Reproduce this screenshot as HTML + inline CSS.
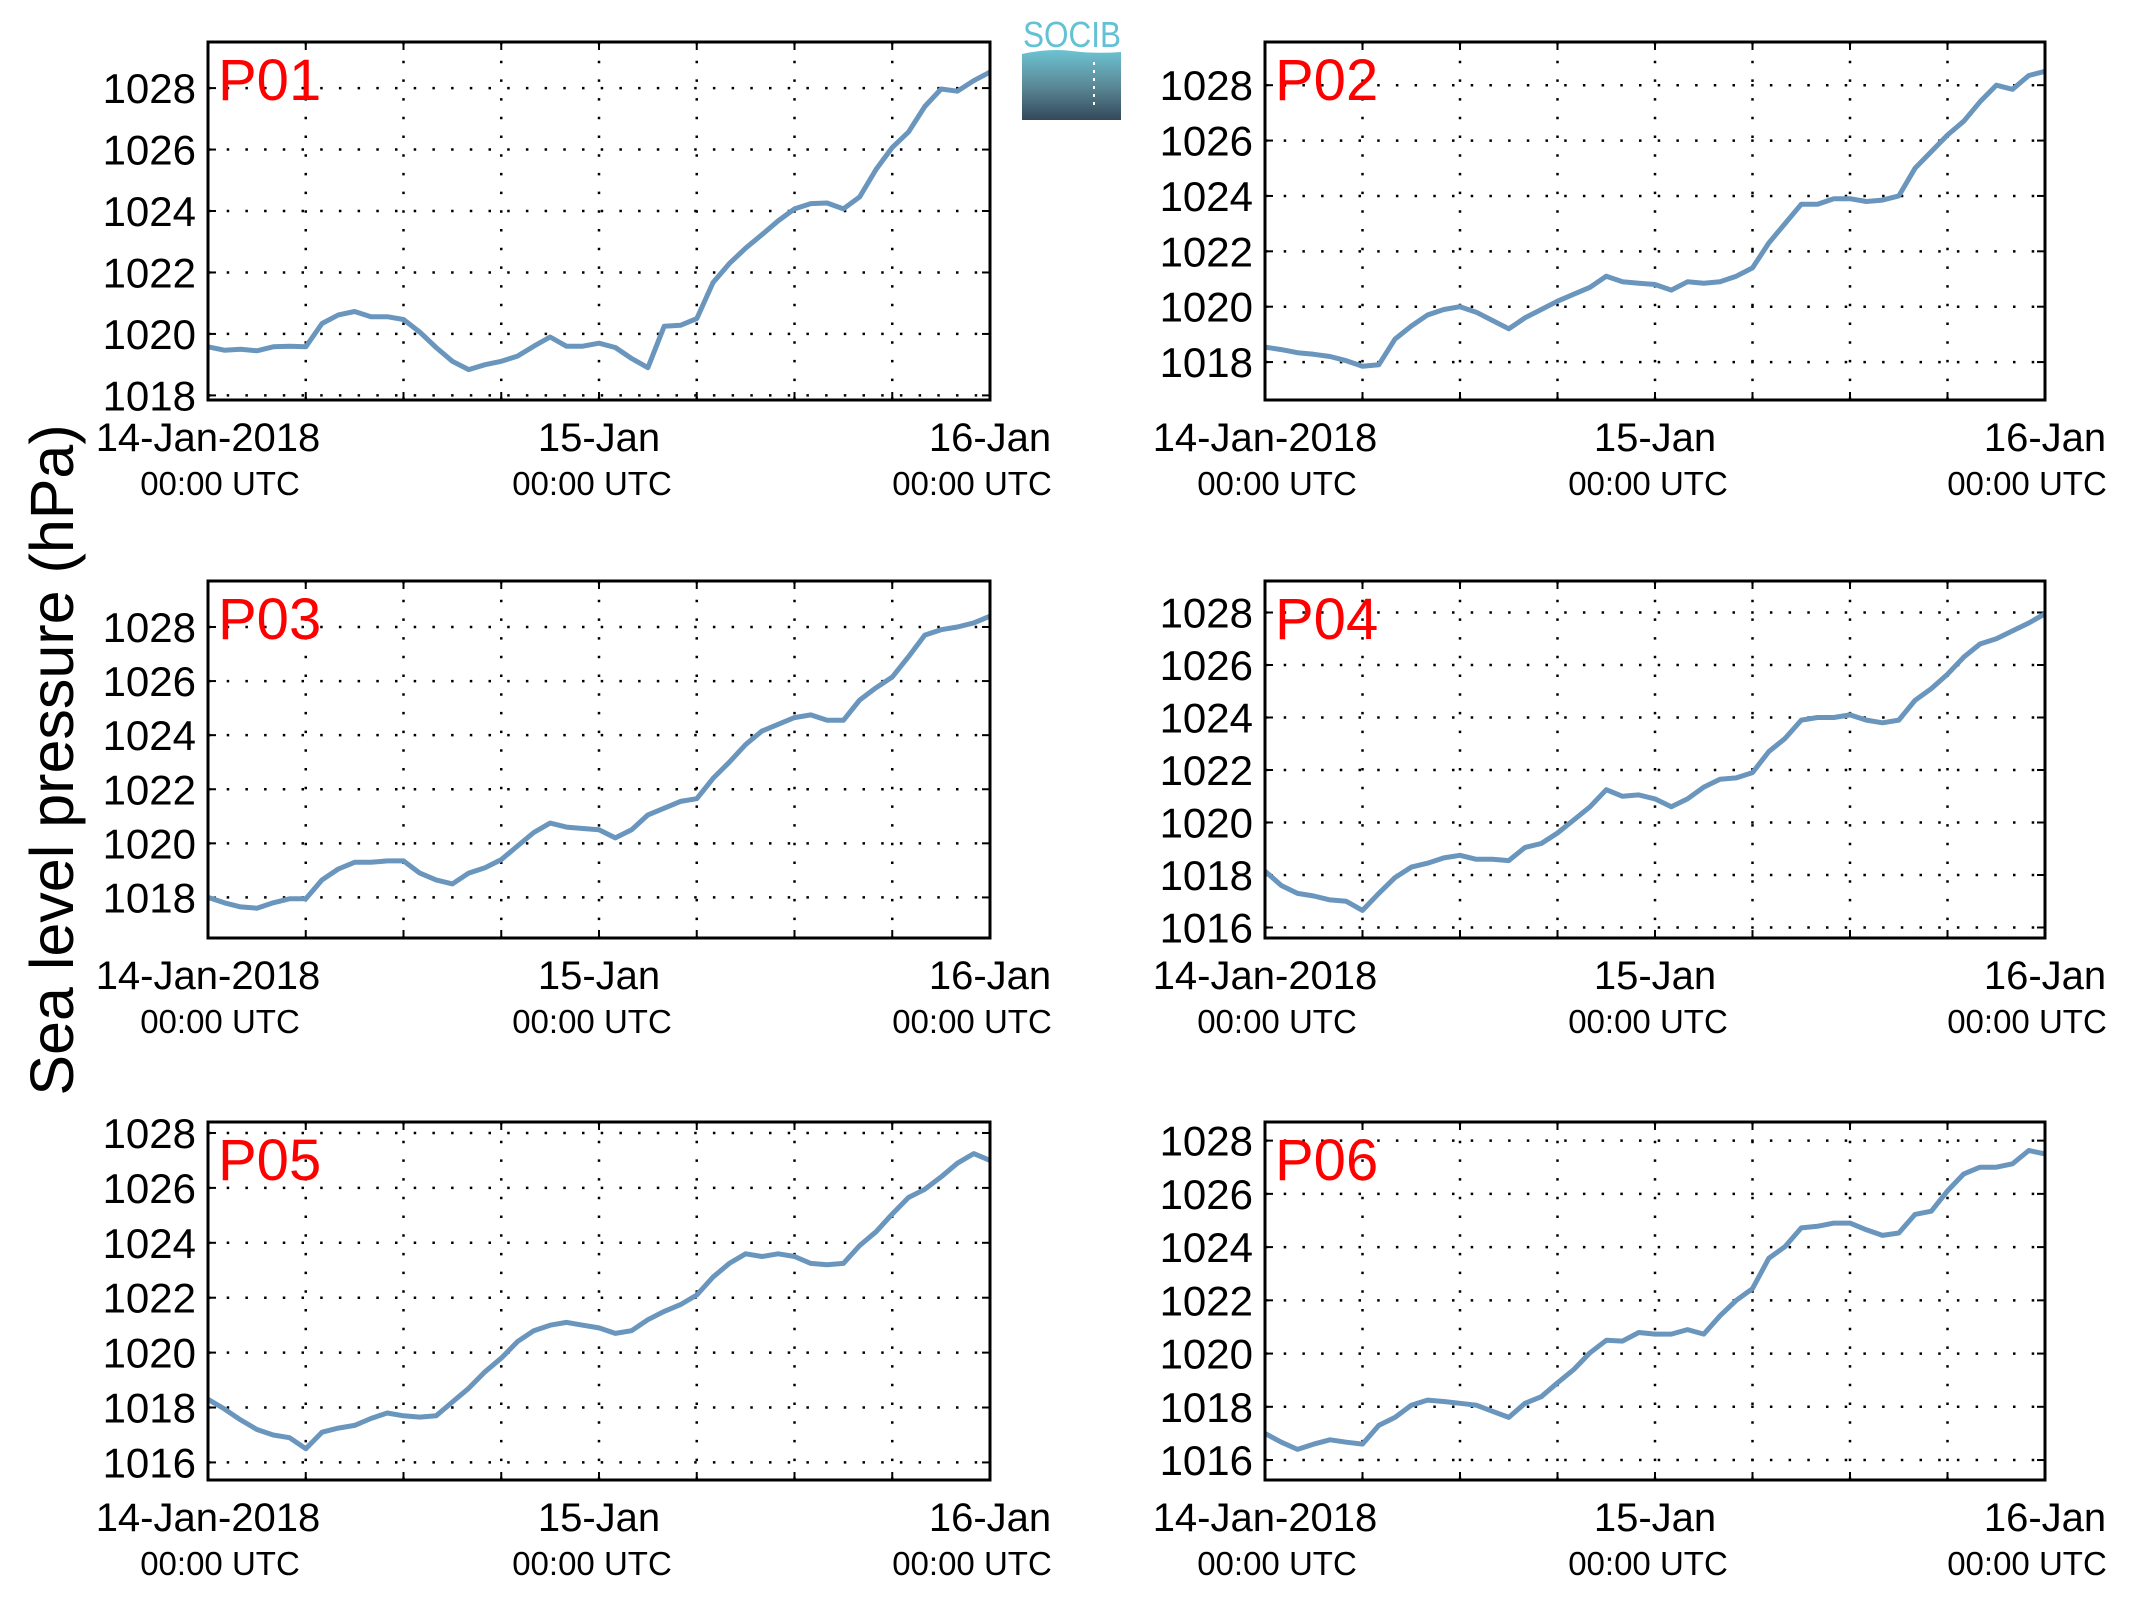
<!DOCTYPE html>
<html><head><meta charset="utf-8"><style>
html,body{margin:0;padding:0;background:#fff;}
svg{display:block;font-family:"Liberation Sans",sans-serif;}
</style></head><body>
<svg id="fig" width="2138" height="1608" viewBox="0 0 2138 1608" xmlns="http://www.w3.org/2000/svg">
<g>
<defs><linearGradient id="lg" x1="0" y1="0" x2="0" y2="1"><stop offset="0" stop-color="#6cc3d3"/><stop offset="0.5" stop-color="#5c8a98"/><stop offset="1" stop-color="#34495a"/></linearGradient></defs>
<text x="1072" y="47" font-size="36" fill="#62c2d4" text-anchor="middle" textLength="98" lengthAdjust="spacingAndGlyphs">SOCIB</text>
<path d="M1022,54 Q1050,48 1072,51 T1121,52 L1121,120 L1022,120 Z" fill="url(#lg)"/>
<line x1="1094" y1="62" x2="1094" y2="106" stroke="#fff" stroke-width="2" stroke-dasharray="3,5"/>
</g>
<text transform="translate(73,760) rotate(-90)" font-size="61" text-anchor="middle">Sea level pressure (hPa)</text>
<g id="panels"></g>
</svg>
<script>
const hours = [0,1,2,3,4,5,6,7,8,9,10,11,12,13,14,15,16,17,18,19,20,21,22,23,24,25,26,27,28,29,30,31,32,33,34,35,36,37,38,39,40,41,42,43,44,45,46,47,48];
const stationNames = ["P01","P02","P03","P04","P05","P06"];
const xTickTop = ["14-Jan-2018","15-Jan","16-Jan"];
const xTickBottom = ["00:00 UTC","00:00 UTC","00:00 UTC"];
const xTickHours = [0,24,48];
const p01 = [1019.58,1019.47,1019.5,1019.45,1019.58,1019.6,1019.58,1020.34,1020.62,1020.73,1020.56,1020.56,1020.47,1020.06,1019.56,1019.11,1018.84,1019.0,1019.11,1019.28,1019.6,1019.9,1019.6,1019.6,1019.7,1019.56,1019.2,1018.9,1020.25,1020.28,1020.5,1021.67,1022.29,1022.79,1023.23,1023.68,1024.07,1024.24,1024.26,1024.07,1024.46,1025.35,1026.07,1026.57,1027.4,1027.97,1027.9,1028.24,1028.52];
const p02 = [1018.54,1018.45,1018.34,1018.28,1018.2,1018.05,1017.85,1017.9,1018.83,1019.3,1019.7,1019.9,1020.0,1019.8,1019.5,1019.2,1019.6,1019.9,1020.2,1020.45,1020.7,1021.1,1020.9,1020.85,1020.8,1020.6,1020.9,1020.85,1020.9,1021.1,1021.4,1022.3,1023.0,1023.7,1023.7,1023.9,1023.9,1023.8,1023.85,1024.0,1025.0,1025.6,1026.2,1026.7,1027.4,1028.0,1027.85,1028.35,1028.5];
const p03 = [1018.0,1017.8,1017.65,1017.6,1017.8,1017.95,1017.95,1018.65,1019.05,1019.3,1019.3,1019.35,1019.35,1018.9,1018.65,1018.5,1018.9,1019.1,1019.4,1019.9,1020.4,1020.75,1020.6,1020.55,1020.5,1020.2,1020.5,1021.05,1021.3,1021.55,1021.65,1022.4,1023.0,1023.65,1024.15,1024.4,1024.65,1024.75,1024.55,1024.55,1025.3,1025.75,1026.15,1026.9,1027.7,1027.9,1028.0,1028.15,1028.4];
const p04 = [1018.15,1017.6,1017.3,1017.2,1017.05,1017.0,1016.65,1017.3,1017.9,1018.3,1018.45,1018.65,1018.75,1018.6,1018.6,1018.55,1019.05,1019.2,1019.6,1020.1,1020.6,1021.25,1021.0,1021.05,1020.9,1020.6,1020.9,1021.35,1021.65,1021.7,1021.9,1022.7,1023.2,1023.9,1024.0,1024.0,1024.1,1023.9,1023.8,1023.9,1024.65,1025.1,1025.65,1026.3,1026.8,1027.0,1027.3,1027.6,1027.95];
const p05 = [1018.3,1017.95,1017.55,1017.2,1017.0,1016.9,1016.5,1017.1,1017.25,1017.35,1017.6,1017.8,1017.7,1017.65,1017.7,1018.2,1018.7,1019.3,1019.8,1020.4,1020.8,1021.0,1021.1,1021.0,1020.9,1020.7,1020.8,1021.2,1021.5,1021.75,1022.1,1022.75,1023.25,1023.6,1023.5,1023.6,1023.5,1023.25,1023.2,1023.25,1023.9,1024.4,1025.05,1025.65,1025.95,1026.4,1026.9,1027.25,1027.0];
const p06 = [1017.0,1016.67,1016.4,1016.6,1016.76,1016.67,1016.6,1017.3,1017.6,1018.06,1018.25,1018.2,1018.13,1018.06,1017.83,1017.6,1018.13,1018.38,1018.9,1019.4,1020.03,1020.5,1020.47,1020.79,1020.73,1020.73,1020.9,1020.73,1021.42,1022.0,1022.44,1023.58,1024.02,1024.72,1024.78,1024.9,1024.9,1024.65,1024.44,1024.53,1025.23,1025.35,1026.11,1026.75,1027.0,1027.0,1027.13,1027.63,1027.5];
const yMins = [1017.85,1016.63,1016.5,1015.6,1015.36,1015.25];
const yMaxs = [1029.5,1029.56,1029.7,1029.2,1028.4,1028.7];
const yTickStarts = [1018,1018,1018,1016,1016,1016];
const yTickEnds = [1028,1028,1028,1028,1028,1028];
const series = [p01,p02,p03,p04,p05,p06];

const NS="http://www.w3.org/2000/svg";
const root=document.getElementById('panels');
const colsX=[[208,990],[1265,2045]];
const rowsY=[[42,400],[581,938],[1122,1480]];
const subOffsets=[12,-7,-18];
function mk(tag,attrs,parent){const e=document.createElementNS(NS,tag);for(const k in attrs)e.setAttribute(k,attrs[k]);parent.appendChild(e);return e;}

series.forEach((data,i)=>{
  const [L,R]=colsX[i%2];const [T,B]=rowsY[Math.floor(i/2)];
  const g=mk('g',{},root);
  
  
  const xs=h=>L+(R-L)*h/48;
  const ys=v=>B-(B-T)*(v-yMins[i])/(yMaxs[i]-yMins[i]);
  const grid=mk('g',{stroke:'#000','stroke-width':2.5,'stroke-dasharray':'2.5,16.2'},g);
  
  
  for(let h=6;h<48;h+=6){mk('line',{x1:xs(h),x2:xs(h),y1:T,y2:B},grid);}
  for(let v=yTickStarts[i];v<=yTickEnds[i];v+=2){mk('line',{x1:L,x2:R,y1:ys(v),y2:ys(v)},grid);}
  const tk=mk('g',{stroke:'#000','stroke-width':2},g);
  for(let h=0;h<=48;h+=6){mk('line',{x1:xs(h),x2:xs(h),y1:T,y2:T+8},tk);mk('line',{x1:xs(h),x2:xs(h),y1:B,y2:B-8},tk);}
  for(let v=yTickStarts[i];v<=yTickEnds[i];v+=2){mk('line',{x1:L,x2:L+8,y1:ys(v),y2:ys(v)},tk);mk('line',{x1:R,x2:R-8,y1:ys(v),y2:ys(v)},tk);}
  for(let v=yTickStarts[i];v<=yTickEnds[i];v+=2){
    const t=mk('text',{x:L-12,y:ys(v)+15,'font-size':42,'text-anchor':'end'},g);
    
    
    t.textContent=String(v);
  }
  xTickHours.forEach((h,k)=>{
    const t=mk('text',{x:xs(h),y:B+51,'font-size':40,'text-anchor':'middle'},g);
    
    
    t.textContent=xTickTop[k];
    const t2=mk('text',{x:xs(h)+subOffsets[k],y:B+95,'font-size':33,'text-anchor':'middle'},g);
    
    
    t2.textContent=xTickBottom[k];
  });
  const pts=data.map((v,k)=>xs(hours[k]).toFixed(1)+','+ys(v).toFixed(1)).join(' ');
  const pl=mk('polyline',{points:pts,fill:'none',stroke:'#6a96bd','stroke-width':5,'stroke-linejoin':'round'},g);
  
  
  const fr=mk('rect',{x:L,y:T,width:R-L,height:B-T,fill:'none',stroke:'#000','stroke-width':3},g);
  
  
  const lab=mk('text',{x:L+10,y:T+58,'font-size':58,fill:'#ff0000'},g);
  
  
  lab.textContent=stationNames[i];
});
</script>
</body></html>
